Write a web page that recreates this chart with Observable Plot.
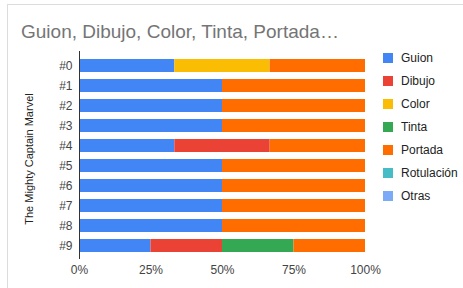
<!DOCTYPE html>
<html>
<head>
<meta charset="utf-8">
<script src="https://cdn.jsdelivr.net/npm/d3@7"></script>
<script src="https://cdn.jsdelivr.net/npm/@observablehq/plot@0.6"></script>
<style>
  html, body { margin: 0; padding: 0; background: #fff; }
  #wrap { position: relative; width: 463px; height: 288px; overflow: hidden; font-family: Arial, "Liberation Sans", sans-serif; }
  #frame { position: absolute; left: 7px; top: 4px; right: -2px; bottom: -2px; border-left: 1px solid #dcdcdc; border-top: 1px solid #dcdcdc; }
  #title { position: absolute; left: 21px; top: 22px; font-size: 19px; line-height: 19px; color: #757575; white-space: nowrap; }
  #chart { position: absolute; left: 0; top: 0; }
  #legend { position: absolute; left: 383px; top: 52px; }
  .item { position: relative; height: 23px; font-size: 12px; color: #222; }
  .sw { position: absolute; left: 0; top: 1px; width: 10px; height: 10px; }
  .lb { position: absolute; left: 18px; top: -1px; line-height: 14px; white-space: nowrap; }
  #ylab { position: absolute; left: 29px; top: 159px; transform: translate(-50%, -50%) rotate(-90deg); font-size: 11px; color: #222; white-space: nowrap; }
</style>
</head>
<body>
<div id="wrap">
  <div id="frame"></div>
  <div id="chart"></div>
  <div id="title">Guion, Dibujo, Color, Tinta, Portada…</div>
  <div id="ylab">The Mighty Captain Marvel</div>
  <div id="legend"></div>
</div>
<script>
const issues = ["#0", "#1", "#2", "#3", "#4", "#5", "#6", "#7", "#8", "#9"];
const roles = ["Guion", "Dibujo", "Color", "Tinta", "Portada", "Rotulación", "Otras"];
const roleColors = ["#4285f4", "#ea4335", "#fbbc04", "#34a853", "#ff6d01", "#46bdc6", "#7baaf7"];
const guion      = [1, 1, 1, 1, 1, 1, 1, 1, 1, 1];
const dibujo     = [0, 0, 0, 0, 1, 0, 0, 0, 0, 1];
const color      = [1, 0, 0, 0, 0, 0, 0, 0, 0, 0];
const tinta      = [0, 0, 0, 0, 0, 0, 0, 0, 0, 1];
const portada    = [1, 1, 1, 1, 1, 1, 1, 1, 1, 1];
const rotulacion = [0, 0, 0, 0, 0, 0, 0, 0, 0, 0];
const otras      = [0, 0, 0, 0, 0, 0, 0, 0, 0, 0];
const xTicks = [0, 0.25, 0.5, 0.75, 1];
const xTickLabels = ["0%", "25%", "50%", "75%", "100%"];

const series = [guion, dibujo, color, tinta, portada, rotulacion, otras];
const rows = [];
issues.forEach((iss, i) => {
  roles.forEach((r, k) => {
    rows.push({issue: iss, role: r, value: series[k][i]});
  });
});

const chart = Plot.plot({
  width: 463,
  height: 288,
  marginLeft: 79,
  marginRight: 98,
  marginTop: 51,
  marginBottom: 29,
  style: {fontFamily: "Arial, 'Liberation Sans', sans-serif", fontSize: "12px", color: "#444", background: "transparent"},
  x: {domain: [0, 1], label: null},
  y: {domain: issues, padding: 0.35, label: null},
  color: {domain: roles, range: roleColors},
  marks: [
    Plot.gridX(xTicks.slice(1), {stroke: "#d9d9d9", strokeOpacity: 1, y1: 51, y2: 259}),
    Plot.barX(rows, Plot.stackX({x: "value", y: "issue", fill: "role", offset: "normalize", order: roles, inset: 0})),
    Plot.ruleX([0], {stroke: "#333", strokeWidth: 1}),
    Plot.axisX({ticks: xTicks, tickFormat: (d) => xTickLabels[xTicks.indexOf(d)], tickSize: 0, tickPadding: 6, label: null, fill: "#444"}),
    Plot.axisY({tickSize: 0, tickPadding: 7, label: null, fill: "#444"})
  ]
});
document.getElementById("chart").appendChild(chart);

const legend = document.getElementById("legend");
roles.forEach((r, k) => {
  const it = document.createElement("div");
  it.className = "item";
  it.innerHTML = `<div class="sw" style="background:${roleColors[k]}"></div><div class="lb">${r}</div>`;
  legend.appendChild(it);
});
</script>
</body>
</html>
